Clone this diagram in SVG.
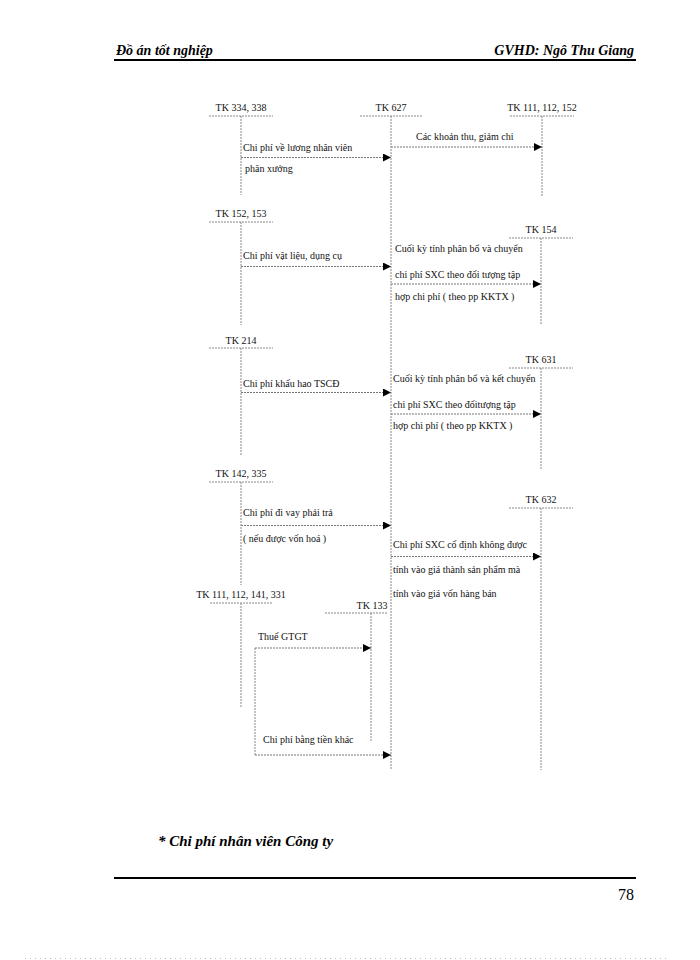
<svg xmlns="http://www.w3.org/2000/svg" width="700" height="960" viewBox="0 0 700 960">
<defs>
<marker id="ah" viewBox="0 0 10 10" refX="10" refY="5" markerWidth="10" markerHeight="8" markerUnits="userSpaceOnUse" orient="auto">
<path d="M0,0 L10,5 L0,10 z" fill="#000"/>
</marker>
<style>
.hd{font-family:"Liberation Serif",serif;font-size:14px;font-weight:bold;font-style:italic;fill:#000}
.t{font-family:"Liberation Serif",serif;font-size:10px;fill:#111}
.tk{font-family:"Liberation Serif",serif;font-size:10px;fill:#111;text-anchor:middle}
.ax{stroke:#888;stroke-width:1;fill:none;stroke-dasharray:2 1}
.ar{stroke:#777;stroke-width:1;fill:none;stroke-dasharray:2 1;marker-end:url(#ah)}
.rule{stroke:#000;stroke-width:2}
</style>
</defs>
<rect width="700" height="960" fill="#fff"/>
<g id="header">
<text class="hd" x="116" y="55">Đồ án tốt nghiệp</text>
<text class="hd" x="634" y="55" text-anchor="end">GVHD: Ngô Thu Giang</text>
<line class="rule" x1="114" y1="60" x2="636" y2="60"/>
</g>
<g id="tk334"><text class="tk" x="241" y="111">TK 334, 338</text><line class="ax" x1="209" y1="116" x2="273" y2="116"/><line class="ax" x1="241" y1="116" x2="241" y2="195"/></g>
<g id="tk627"><text class="tk" x="391" y="111">TK 627</text><line class="ax" x1="360" y1="116" x2="422" y2="116"/><line class="ax" x1="391" y1="116" x2="391" y2="770"/></g>
<g id="tk111a"><text class="tk" x="542" y="111">TK 111, 112, 152</text><line class="ax" x1="510" y1="116" x2="574" y2="116"/><line class="ax" x1="542" y1="116" x2="542" y2="196"/></g>
<g id="tk152"><text class="tk" x="241" y="217">TK 152, 153</text><line class="ax" x1="209" y1="222" x2="273" y2="222"/><line class="ax" x1="241" y1="222" x2="241" y2="325"/></g>
<g id="tk154"><text class="tk" x="541" y="233">TK 154</text><line class="ax" x1="509" y1="238" x2="573" y2="238"/><line class="ax" x1="541" y1="238" x2="541" y2="324"/></g>
<g id="tk214"><text class="tk" x="241" y="344">TK 214</text><line class="ax" x1="209" y1="348" x2="273" y2="348"/><line class="ax" x1="241" y1="348" x2="241" y2="455"/></g>
<g id="tk631"><text class="tk" x="541" y="363">TK 631</text><line class="ax" x1="509" y1="368" x2="573" y2="368"/><line class="ax" x1="541" y1="368" x2="541" y2="470"/></g>
<g id="tk142"><text class="tk" x="241" y="477">TK 142, 335</text><line class="ax" x1="209" y1="482" x2="273" y2="482"/><line class="ax" x1="241" y1="482" x2="241" y2="585"/></g>
<g id="tk632"><text class="tk" x="541" y="503">TK 632</text><line class="ax" x1="509" y1="508" x2="573" y2="508"/><line class="ax" x1="541" y1="508" x2="541" y2="770"/></g>
<g id="tk111b"><text class="tk" x="241" y="598">TK 111, 112, 141, 331</text><line class="ax" x1="210" y1="603" x2="272" y2="603"/><line class="ax" x1="241" y1="603" x2="241" y2="707"/></g>
<g id="tk133"><text class="tk" x="372" y="609">TK 133</text><line class="ax" x1="325" y1="613" x2="387" y2="613"/><line class="ax" x1="371" y1="613" x2="371" y2="741"/></g>
<g id="connectors">
<line class="ar" x1="241" y1="157.5" x2="391" y2="157.5"/>
<line class="ar" x1="391" y1="147" x2="542" y2="147"/>
<line class="ar" x1="241" y1="266.5" x2="391" y2="266.5"/>
<line class="ar" x1="391" y1="284" x2="541" y2="284"/>
<line class="ar" x1="241" y1="392.5" x2="391" y2="392.5"/>
<line class="ar" x1="391" y1="414" x2="541" y2="414"/>
<line class="ar" x1="241" y1="525.5" x2="391" y2="525.5"/>
<line class="ar" x1="391" y1="556.5" x2="541" y2="556.5"/>
<line class="ax" x1="255" y1="648" x2="255" y2="755"/>
<line class="ar" x1="255" y1="648" x2="371" y2="648"/>
<line class="ar" x1="255" y1="755" x2="391" y2="755"/>
</g>
<g id="labels">
<text class="t" x="243" y="151">Chi phí về lương nhân viên</text>
<text class="t" x="245" y="172">phân xưởng</text>
<text class="t" x="416" y="140">Các khoản thu, giảm chi</text>
<text class="t" x="243" y="259">Chi phí vật liệu, dụng cụ</text>
<text class="t" x="395" y="252">Cuối kỳ tính phân bổ và chuyển</text>
<text class="t" x="395" y="278">chi phí SXC theo đối tượng tập</text>
<text class="t" x="395" y="300">hợp chi phí ( theo pp KKTX )</text>
<text class="t" x="243" y="387">Chi phí khấu hao TSCĐ</text>
<text class="t" x="393" y="382">Cuối kỳ tính phân bổ và kết chuyển</text>
<text class="t" x="393" y="408">chi phí SXC theo đốitượng tập</text>
<text class="t" x="393" y="429">hợp chi phí ( theo pp KKTX )</text>
<text class="t" x="243" y="516">Chi phí đi vay phải trả</text>
<text class="t" x="243" y="542">( nếu được vốn hoá )</text>
<text class="t" x="393" y="548">Chi phí SXC cố định không được</text>
<text class="t" x="393" y="573">tính vào giá thành sản phẩm mà</text>
<text class="t" x="393" y="597">tính vào giá vốn hàng bán</text>
<text class="t" x="258" y="640">Thuế GTGT</text>
<text class="t" x="263" y="743">Chi phí bằng tiền khác</text>
</g>
<g id="footer">
<text class="hd" x="158" y="846" style="font-size:15px">*  Chi phí nhân viên Công ty</text>
<line class="rule" x1="114" y1="878" x2="636" y2="878"/>
<text x="634" y="900" text-anchor="end" style="font-family:'Liberation Serif',serif;font-size:16px;fill:#000">78</text>
<line x1="25" y1="958.5" x2="670" y2="958.5" stroke="#bbb" stroke-width="1" stroke-dasharray="1 4"/>
</g>
</svg>
